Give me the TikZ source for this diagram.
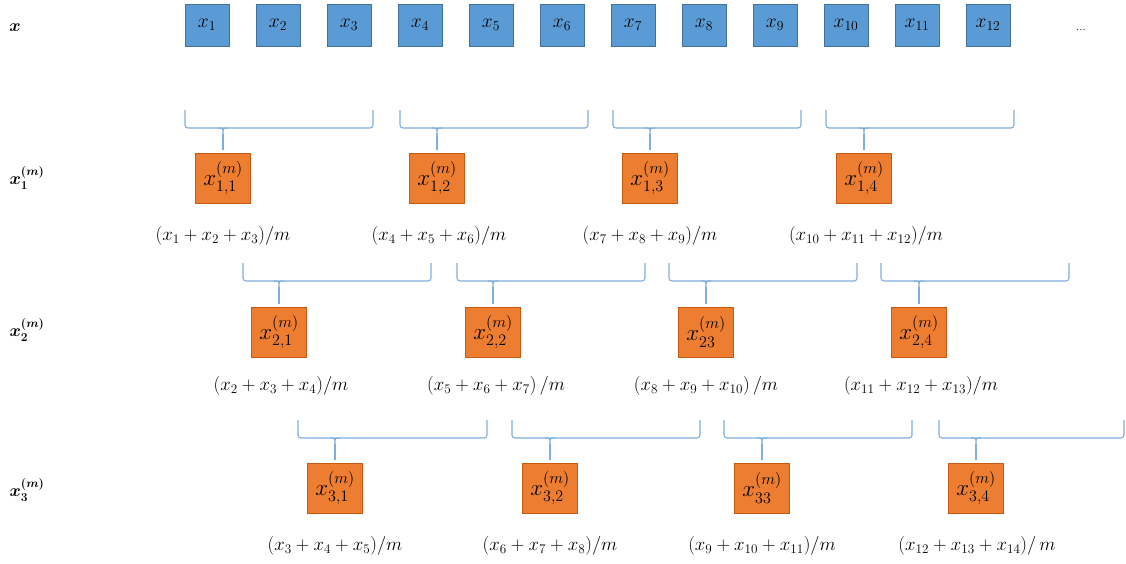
\RequirePackage{fix-cm}
\documentclass[tikz,border=0pt]{standalone}
\usepackage{amsmath}
\definecolor{bfill}{HTML}{5B9BD5}
\definecolor{bline}{HTML}{41719C}
\definecolor{ofill}{HTML}{ED7D31}
\definecolor{oline}{HTML}{C55A11}
\definecolor{brcol}{HTML}{7FAEDB}
\begin{document}
\begin{tikzpicture}[x=1pt,y=-1pt,
  bbox/.style={draw=bline, fill=bfill, minimum width=44pt, minimum height=42pt, inner sep=0pt, line width=0.8pt, font=\fontsize{19.5}{23}\selectfont},
  obox/.style={draw=oline, fill=ofill, minimum width=55pt, minimum height=50pt, inner sep=0pt, line width=0.8pt, font=\fontsize{23}{27}\selectfont},
  brk/.style={draw=brcol, line width=1.1pt},
  lab/.style={font=\fontsize{18.8}{22}\selectfont, inner sep=0pt},
  rlab/.style={font=\fontsize{17.28}{20}\selectfont\boldmath, inner sep=0pt}]
\useasboundingbox (0,0) rectangle (1126,563);
% top row
\node[rlab] (rx) at (15,28) {$x$};
\foreach \i in {1,...,12} \node[bbox] (b\i) at ({207+71*(\i-1)},25) {$x_{\i}$};
\node[lab, font=\fontsize{12}{14}\selectfont] (dots) at (1081,30) {...};
% row labels
\node[rlab] (r1) at (27,178) {$x^{(m)}_{1}$};
\node[rlab] (r2) at (27,330) {$x^{(m)}_{2}$};
\node[rlab] (r3) at (27,490) {$x^{(m)}_{3}$};
% orange boxes
\node[obox] (o11) at (223,178) {$x^{(m)}_{1,1}$};
\node[obox] (o12) at (437,178) {$x^{(m)}_{1,2}$};
\node[obox] (o13) at (650,178) {$x^{(m)}_{1,3}$};
\node[obox] (o14) at (864,178) {$x^{(m)}_{1,4}$};
\node[obox] (o21) at (279,332) {$x^{(m)}_{2,1}$};
\node[obox] (o22) at (493,332) {$x^{(m)}_{2,2}$};
\node[obox] (o23) at (706,332) {$x^{(m)}_{23}$};
\node[obox] (o24) at (919,332) {$x^{(m)}_{2,4}$};
\node[obox] (o31) at (335,488) {$x^{(m)}_{3,1}$};
\node[obox] (o32) at (550,488) {$x^{(m)}_{3,2}$};
\node[obox] (o33) at (762,488) {$x^{(m)}_{33}$};
\node[obox] (o34) at (976,488) {$x^{(m)}_{3,4}$};
% formula labels
\node[lab] (l11) at (223,236) {$(x_1+x_2+x_3)/m$};
\node[lab] (l12) at (439,236) {$(x_4+x_5+x_6)/m$};
\node[lab] (l13) at (650,236) {$(x_7+x_8+x_9)/m$};
\node[lab] (l14) at (866,236) {$(x_{10}+x_{11}+x_{12})/m$};
\node[lab] (l21) at (281,386) {$(x_2+x_3+x_4)/m$};
\node[lab] (l22) at (496,386) {$(x_5+x_6+x_7)\,/m$};
\node[lab] (l23) at (706,386) {$(x_8+x_9+x_{10})\,/m$};
\node[lab] (l24) at (921,386) {$(x_{11}+x_{12}+x_{13})/m$};
\node[lab] (l31) at (335,546) {$(x_3+x_4+x_5)/m$};
\node[lab] (l32) at (550,546) {$(x_6+x_7+x_8)/m$};
\node[lab] (l33) at (762,546) {$(x_9+x_{10}+x_{11})/m$};
\node[lab] (l34) at (977,546) {$(x_{12}+x_{13}+x_{14})/\,m$};
% brackets: row/col/left/width/top/horizontal
\foreach \r/\c/\L/\W/\T/\H in {
  1/1/185/188/110/128, 1/2/400/188/110/128, 1/3/613/188/110/128, 1/4/826/188/110/128,
  2/1/243/188/263/281, 2/2/457/188/263/281, 2/3/669/188/263/281, 2/4/881/188/263/281,
  3/1/298/189/420/438, 3/2/512/188/420/438, 3/3/724/188/420/438, 3/4/939/185/420/438}{
  \draw[brk, rounded corners=3pt] (\L,\T) -- (\L,\H) -- ({\L+\W},\H) -- ({\L+\W},\T);
  \coordinate (t\r\c) at (o\r\c.north |- 0,{\H+6});
  \coordinate (tl\r\c) at ([xshift=-5pt]o\r\c.north |- 0,\H);
  \coordinate (tr\r\c) at ([xshift=5pt]o\r\c.north |- 0,\H);
  \coordinate (tm\r\c) at (o\r\c.north |- 0,\H);
  \draw[brk] (tl\r\c) .. controls (tm\r\c) .. (t\r\c) .. controls (tm\r\c) .. (tr\r\c);
  \draw[brk, shorten >=3pt] (t\r\c) -- (o\r\c.north);
}
\end{tikzpicture}
\end{document}
